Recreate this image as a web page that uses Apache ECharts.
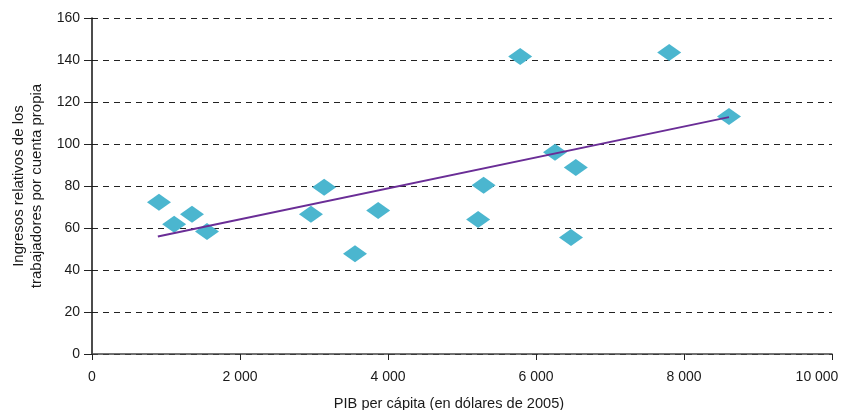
<!DOCTYPE html>
<html>
<head>
<meta charset="utf-8">
<script src="https://cdn.jsdelivr.net/npm/echarts@6/dist/echarts.min.js"></script>
<style>
html,body{margin:0;padding:0;background:#fff;}
#chart{width:841px;height:410px;}
</style>
</head>
<body>
<div id="chart"></div>
<script>
// Data
var pibX = [905, 1110, 1351, 1554, 2959, 3137, 3554, 3867, 5218, 5292, 5786, 6257, 6538, 6473, 7800, 8608];
var ingresosY = [72.3, 61.8, 66.6, 58.3, 66.6, 79.4, 47.7, 68.3, 64.0, 80.4, 141.7, 96.1, 88.8, 55.5, 143.6, 113.1];
var trendX = [890, 8608];
var trendY = [56.0, 112.8];
var xTicks = [0, 2000, 4000, 6000, 8000, 10000];
var yTicks = [0, 20, 40, 60, 80, 100, 120, 140, 160];

var points = pibX.map(function (x, i) { return [x, ingresosY[i]]; });
var trend = trendX.map(function (x, i) { return [x, trendY[i]]; });

function fmtThousands(v) {
  var s = String(v).replace(/\B(?=(\d{3})+(?!\d))/g, ' ');
  return v === xTicks[xTicks.length - 1] ? '{last|' + s + '}' : s;
}

var font = 'Liberation Sans, Arial, sans-serif';
var chart = echarts.init(document.getElementById('chart'), null, {renderer: 'canvas'});
chart.setOption({
  animation: false,
  backgroundColor: '#ffffff',
  grid: {left: 92, right: 9, top: 18, bottom: 56, containLabel: false, outerBoundsMode: 'none'},
  xAxis: {
    type: 'value',
    min: xTicks[0],
    max: xTicks[xTicks.length - 1],
    interval: xTicks[1] - xTicks[0],
    name: 'PIB per cápita (en dólares de 2005)',
    nameLocation: 'middle',
    nameGap: 42,
    nameTextStyle: {fontFamily: font, fontSize: 14.6, color: '#1a1a1a', padding: [0, 26, 0, 0]},
    axisLine: {onZero: false, lineStyle: {color: '#444444', width: 1.5}},
    axisTick: {show: true, length: 6, lineStyle: {color: '#222222', width: 1}},
    axisLabel: {
      fontFamily: font, fontSize: 14, color: '#1a1a1a', margin: 16, formatter: fmtThousands,
      rich: {last: {fontFamily: font, fontSize: 14, color: '#1a1a1a', padding: [0, 30, 0, 0]}}
    },
    splitLine: {show: false}
  },
  yAxis: {
    type: 'value',
    min: yTicks[0],
    max: yTicks[yTicks.length - 1],
    interval: yTicks[1] - yTicks[0],
    name: 'Ingresos relativos de los\ntrabajadores por cuenta propia',
    nameLocation: 'middle',
    nameGap: 46,
    nameTextStyle: {fontFamily: font, fontSize: 15, color: '#1a1a1a', lineHeight: 18, align: 'center'},
    axisLine: {show: true, lineStyle: {color: '#111111', width: 1.5}},
    axisTick: {show: true, length: 8, lineStyle: {color: '#222222', width: 1}},
    axisLabel: {fontFamily: font, fontSize: 14, color: '#1a1a1a', margin: 12},
    splitLine: {show: true, lineStyle: {color: '#222222', width: 1, type: [6, 5]}}
  },
  series: [
    {
      type: 'scatter',
      data: points,
      symbol: 'diamond',
      symbolSize: [24, 17],
      itemStyle: {color: '#4bb6cf', opacity: 1},
      z: 2
    },
    {
      type: 'line',
      data: trend,
      symbol: 'none',
      lineStyle: {color: '#6a2d96', width: 2},
      z: 3
    }
  ]
});
</script>
</body>
</html>
